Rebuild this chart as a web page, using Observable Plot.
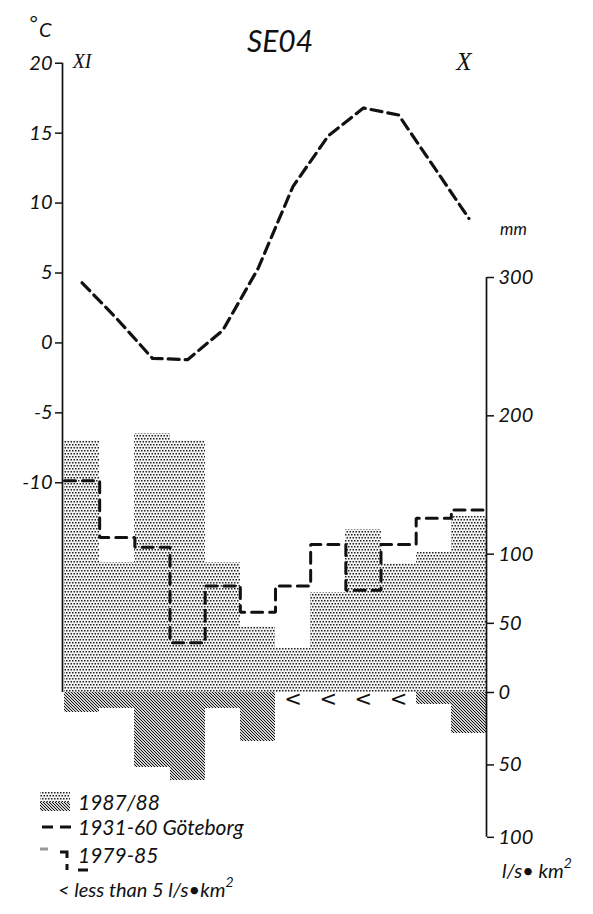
<!DOCTYPE html>
<html>
<head>
<meta charset="utf-8">
<script src="https://cdn.jsdelivr.net/npm/d3@7"></script>
<script src="https://cdn.jsdelivr.net/npm/@observablehq/plot@0.6"></script>
<style>
  body { margin: 0; background: #fff; }
  #chart { position: relative; width: 593px; height: 914px; }
  #chart > svg { position: absolute; left: 0; top: 0; }
  #annot { pointer-events: none; font-family: Lato, "Noto Sans", sans-serif; font-style: italic; fill: #111; }
</style>
</head>
<body>
<div id="chart"></div>
<script>
// Hydrological year XI (Nov 1987) … X (Oct 1988), station SE04
const months = ["XI", "XII", "I", "II", "III", "IV", "V", "VI", "VII", "VIII", "IX", "X"];
// monthly precipitation 1987/88, mm
const precip1987 = [182, 94, 187, 182, 94, 48, 32, 72, 118, 93, 101, 127];
// monthly precipitation, reference period (dashed steps), mm
const precipNormal = [153, 112, 105, 36, 77, 58, 77, 107, 74, 107, 126, 132];
// mean monthly air temperature 1931-60 Göteborg, °C
const tempNormal = [4.3, 1.7, -1.1, -1.2, 0.9, 5.3, 11.2, 14.8, 16.8, 16.3, 12.6, 8.9];
// monthly runoff 1987/88, l/s·km² (null = below 5)
const runoff1987 = [14, 11, 52, 61, 11, 34, null, null, null, null, 8, 28];
const runoffBelow5 = [false, false, false, false, false, false, true, true, true, true, false, false];
// axis ticks
const tempTicks = [20, 15, 10, 5, 0, -5, -10];
const precipTicks = [300, 200, 100, 50, 0];
const runoffTicks = [50, 100];

// Everything shares the precipitation (mm) y scale; temperature and runoff are
// converted onto it so the three axes line up as in the climate diagram.
const T0 = 252.7;   // 0 °C expressed in mm
const TK = 10.11;   // mm per °C
const RK = 1.047;   // mm per l/s·km² (drawn downward)
const tMm = t => T0 + TK * t;
const rMm = r => -RK * r;

const idx = months.map((_, i) => i);
const precipRows = idx.map(i => ({i, v: precip1987[i]}));
const runoffRows = idx.filter(i => runoff1987[i] != null).map(i => ({i, v: runoff1987[i]}));
const stepRows = precipNormal.flatMap((v, i) => [{x: i, v}, {x: i + 1, v}]);
const lessRows = idx.filter(i => runoffBelow5[i]);

// screen patterns: light stipple for precipitation, darker diagonal screen for runoff
function addPatterns(defs, suffix) {
  const s = defs.append("pattern").attr("id", "stipple" + suffix).attr("patternUnits", "userSpaceOnUse")
    .attr("width", 3).attr("height", 6);
  s.append("rect").attr("width", 3).attr("height", 6).attr("fill", "#f4f4f4");
  s.append("rect").attr("x", 0).attr("y", 0).attr("width", 1.5).attr("height", 1.5).attr("fill", "#222");
  s.append("rect").attr("x", 1.5).attr("y", 3).attr("width", 1.5).attr("height", 1.5).attr("fill", "#222");
  const h = defs.append("pattern").attr("id", "hatch" + suffix).attr("patternUnits", "userSpaceOnUse")
    .attr("width", 3).attr("height", 3);
  h.append("rect").attr("width", 3).attr("height", 3).attr("fill", "#d4d4d4");
  for (let k = 0; k < 3; k++) {
    h.append("rect").attr("x", k).attr("y", k).attr("width", 1).attr("height", 1).attr("fill", "#111");
  }
}

const patterns = () => {
  const defs = d3.create("svg:defs");
  addPatterns(defs, "");
  return defs.node();
};

const plot = Plot.plot({
  width: 593,
  height: 914,
  marginLeft: 62,
  marginRight: 107,
  marginTop: 0,
  marginBottom: 0,
  x: {domain: [0, 12], range: [64, 486], axis: null},
  y: {domain: [0, 300], range: [692, 277], axis: null},
  style: {fontFamily: "Lato, 'Noto Sans', sans-serif", fontStyle: "italic", fontSize: "20px", color: "#111", background: "#fff"},
  marks: [
    patterns,
    // precipitation 1987/88
    Plot.rect(precipRows, {x1: "i", x2: d => d.i + 1, y1: 0, y2: "v", fill: "url(#stipple)", inset: 0, shapeRendering: "crispEdges"}),
    // runoff 1987/88 hanging below zero
    Plot.rect(runoffRows, {x1: "i", x2: d => d.i + 1, y1: 0, y2: d => rMm(d.v), fill: "url(#hatch)", inset: 0, shapeRendering: "crispEdges"}),
    // reference precipitation steps
    Plot.line(stepRows, {x: "x", y: "v", stroke: "#111", strokeWidth: 3, strokeDasharray: "11,7", strokeLinejoin: "miter"}),
    // mean temperature curve
    Plot.line(tempNormal, {x: (d, i) => i + 0.5, y: d => tMm(d), curve: "linear", stroke: "#111", strokeWidth: 3.2, strokeDasharray: "11,6", strokeLinejoin: "round"}),
    // runoff below 5 l/s·km²
    Plot.text(lessRows, {x: d => d + 0.5, y: () => rMm(5), text: () => "<", fontSize: 21, fontStyle: "normal", fontFamily: "'DejaVu Sans', sans-serif"}),
    // axis lines
    Plot.ruleX([0], {x: d => d, y1: 0, y2: tMm(20), dx: -2, stroke: "#111", strokeWidth: 1.7}),
    Plot.ruleX([12], {x: d => d, y1: 300, y2: rMm(100), stroke: "#111", strokeWidth: 1.7}),
    // temperature axis
    Plot.axisY(tempTicks.map(tMm), {
      anchor: "left", label: null, tickSize: 7, tickPadding: 3, strokeWidth: 1.5,
      tickFormat: d => String(Math.round((d - T0) / TK)), fontSize: 20
    }),
    // precipitation / runoff axis
    Plot.axisY([...precipTicks, ...runoffTicks.map(rMm)], {
      anchor: "right", label: null, tickSize: 7, tickPadding: 5, strokeWidth: 1.5,
      tickFormat: d => d >= 0 ? String(Math.round(d)) : String(Math.round(-d / RK)), fontSize: 20
    }),
    // first and last month of the hydrological year
    Plot.text([0], {x: d => d + 0.5, frameAnchor: "top", dy: 53, text: d => months[d], fontFamily: "'Liberation Serif', serif", fontSize: 20}),
    Plot.text([11], {x: d => d + 0.5, frameAnchor: "top", dy: 52, dx: -5, text: d => months[d], fontFamily: "'Liberation Serif', serif", fontSize: 25})
  ]
});

const chart = document.getElementById("chart");
chart.append(plot);

// Title, units and legend
const annot = d3.select(chart).append("svg")
  .attr("id", "annot").attr("width", 593).attr("height", 914);
addPatterns(annot.append("defs"), "Key");

annot.append("text").attr("x", 280).attr("y", 52).attr("text-anchor", "middle").attr("font-size", 30).text("SE04");
annot.append("text").attr("x", 29).attr("y", 30).attr("font-size", 20).text("°");
annot.append("text").attr("x", 39).attr("y", 37).attr("font-size", 20).text("C");
annot.append("text").attr("x", 500).attr("y", 235).attr("font-size", 17).text("mm");
const unit = annot.append("text").attr("x", 502).attr("y", 878).attr("font-size", 20);
unit.append("tspan").text("l/s• km");
unit.append("tspan").attr("dy", -10).attr("font-size", 14).text("2");

// legend
const key = annot.append("g");
key.append("rect").attr("x", 40).attr("y", 792).attr("width", 30).attr("height", 10).attr("fill", "url(#stippleKey)").attr("shape-rendering", "crispEdges");
key.append("rect").attr("x", 40).attr("y", 802).attr("width", 30).attr("height", 9).attr("fill", "url(#hatchKey)").attr("shape-rendering", "crispEdges");
key.append("text").attr("x", 78).attr("y", 810).attr("font-size", 21).text("1987/88");
key.append("path").attr("d", "M42,827H53M60,827H71").attr("stroke", "#111").attr("stroke-width", 3).attr("fill", "none");
key.append("text").attr("x", 78).attr("y", 835).attr("font-size", 21).text("1931-60 Göteborg");
key.append("path").attr("d", "M40,849H48").attr("stroke", "#999").attr("stroke-width", 3).attr("fill", "none");
key.append("path").attr("d", "M60,852H67V858M67,864V870M78,870H88").attr("stroke", "#111").attr("stroke-width", 3).attr("fill", "none");
key.append("text").attr("x", 78).attr("y", 863).attr("font-size", 21).text("1979-85");
const less = key.append("text").attr("x", 58).attr("y", 897).attr("font-size", 20);
less.append("tspan").text("< less than 5 l/s•km");
less.append("tspan").attr("dy", -10).attr("font-size", 14).text("2");
</script>
</body>
</html>
